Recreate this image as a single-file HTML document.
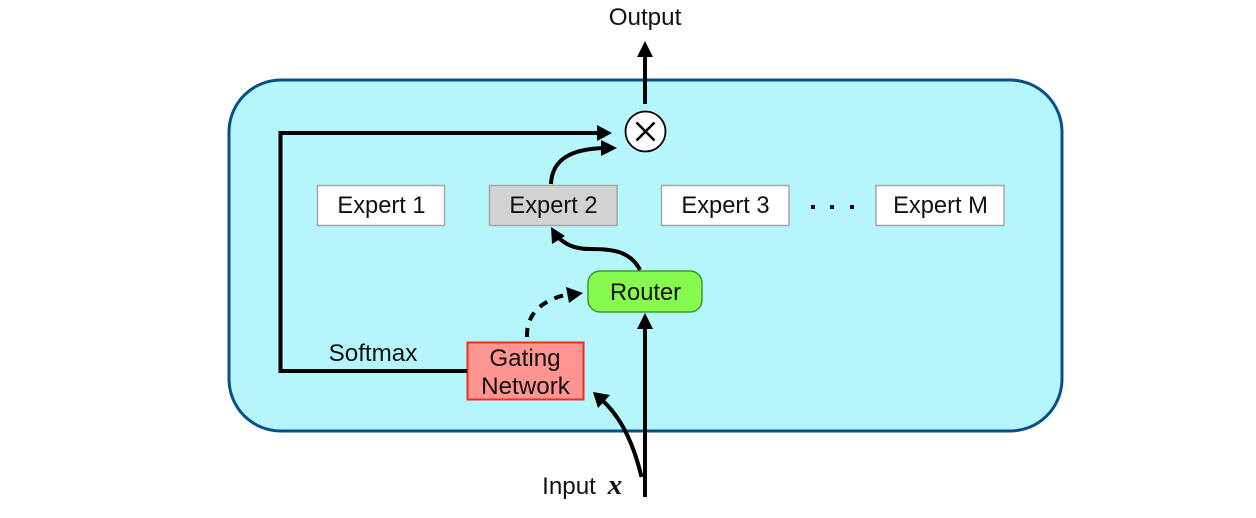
<!DOCTYPE html>
<html><head><meta charset="utf-8"><style>
html,body{margin:0;padding:0;background:#fff;width:1256px;height:518px;overflow:hidden}
svg{display:block}
text{font-family:"Liberation Sans",sans-serif;font-size:23.7px;fill:#111;text-anchor:middle}
text.b{font-size:24.2px}
</style></head><body>
<svg width="1256" height="518" viewBox="0 0 1256 518" xmlns="http://www.w3.org/2000/svg">
<rect x="229" y="80" width="833" height="351" rx="52" ry="52" fill="#b5f6fc" stroke="#0b4f86" stroke-width="3"/>
<g fill="#fff" stroke="#a6a6a6" stroke-width="1.5">
<rect x="317.500" y="185.500" width="127" height="40"/>
<rect x="489.500" y="185.500" width="127.500" height="40" fill="#d2d2d2"/>
<rect x="661.500" y="185.500" width="127.500" height="40"/>
<rect x="876" y="185.500" width="128" height="40"/>
</g>
<rect x="588" y="271" width="114" height="41" rx="12" ry="12" fill="#86fa4e" stroke="#3c9a2a" stroke-width="1.5"/>
<rect x="467.500" y="342.500" width="116" height="57" fill="#ff9490" stroke="#e8301f" stroke-width="2"/>
<circle cx="645.500" cy="131.500" r="20" fill="#fff" stroke="#000" stroke-width="1.8"/>
<path d="M636.500 122.500L654.500 140.500M654.500 122.500L636.500 140.500" stroke="#000" stroke-width="2.500" fill="none"/>
<g fill="none" stroke="#000" stroke-width="4">
<path d="M645 104V55"/>
<path d="M467 371H280.500V133H600"/>
<path d="M551 184C552 160 570 149 604 148"/>
<path d="M640 270C630 250 610 249 590 249C575 249 565 245 556 235"/>
<path d="M527 337C526 312 545 298 571 294" stroke-dasharray="9 8"/>
<path d="M641.500 477C634 445 622 418 602 400"/>
<path d="M645 497V327"/>
</g>
<g fill="#000">
<path d="M645 41L653 57H637Z"/>
<path d="M612 133L597 125V141Z"/>
<path d="M617 148L601 140V156Z"/>
<path d="M551 227L565 236L552 244Z"/>
<path d="M583 293L566 287L569 303Z"/>
<path d="M593 392L610 395L598 408Z"/>
<path d="M645 313L653 329H637Z"/>
<rect x="811" y="205" width="4" height="4"/>
<rect x="830" y="205" width="4" height="4"/>
<rect x="850" y="205" width="4" height="4"/>
</g>
<text class="b" x="645" y="25">Output</text>
<text x="381.500" y="213">Expert 1</text>
<text x="553.500" y="213">Expert 2</text>
<text x="725.500" y="213">Expert 3</text>
<text x="940.500" y="213">Expert M</text>
<text x="645.500" y="300">Router</text>
<text class="b" x="525" y="366">Gating</text>
<text class="b" x="525.500" y="394">Network</text>
<text class="b" x="373" y="361">Softmax</text>
<text class="b" x="569" y="494">Input</text>
<text x="615" y="494" style="font-family:'Liberation Serif',serif;font-style:italic;font-weight:bold;font-size:29px">x</text>
</svg>
</body></html>
